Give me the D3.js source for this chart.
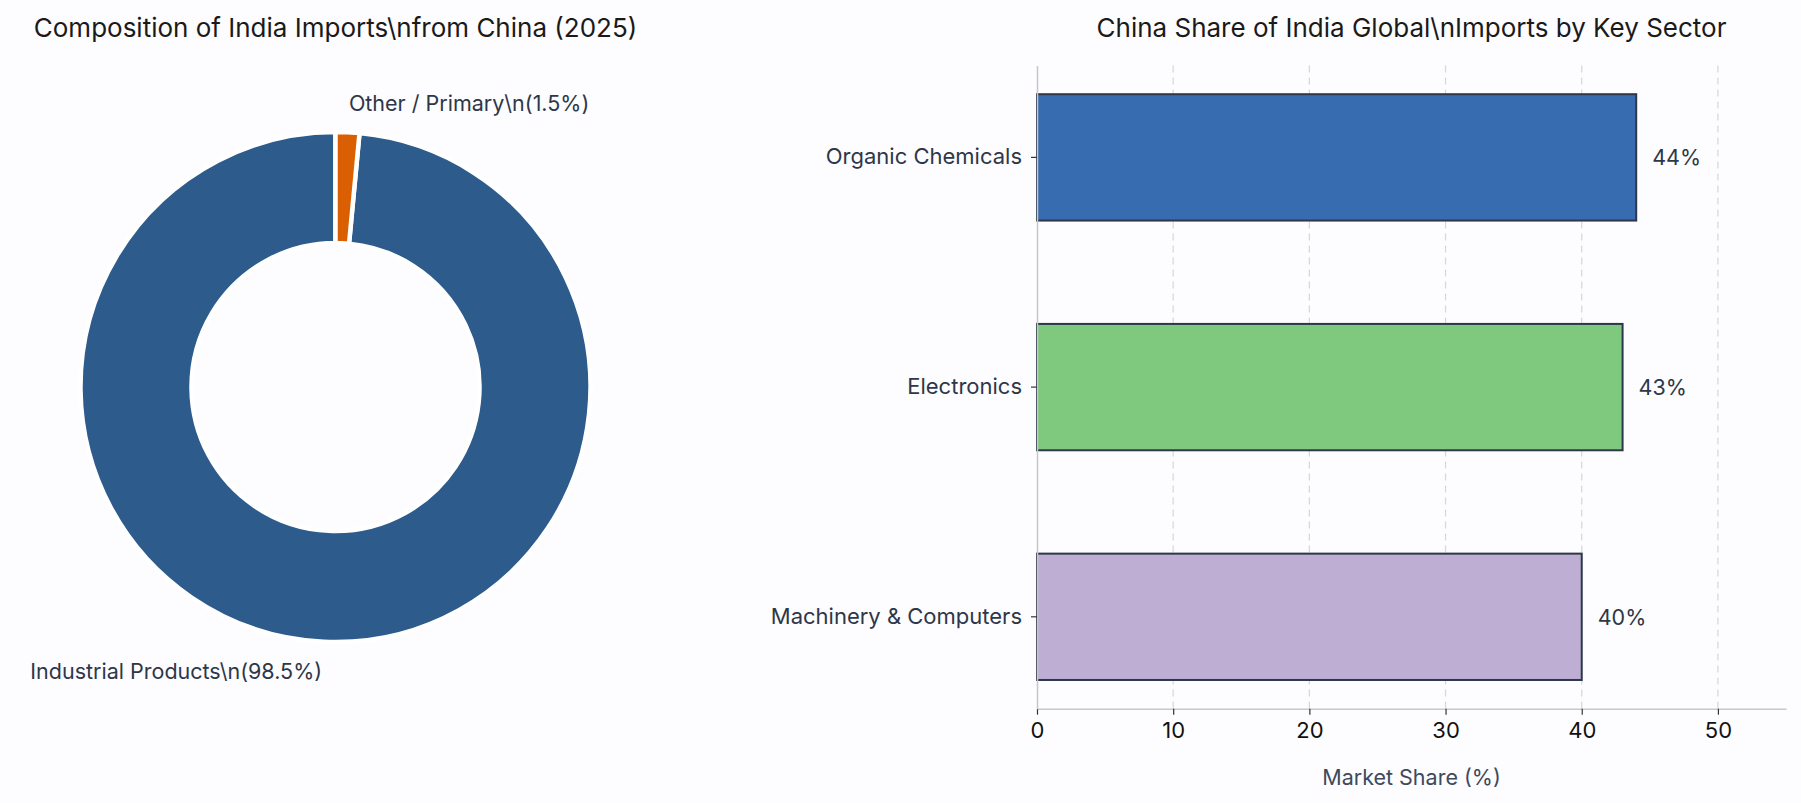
<!DOCTYPE html>
<html>
<head>
<meta charset="utf-8">
<script src="https://cdn.jsdelivr.net/npm/d3@7"></script>
<style>
  html, body { margin: 0; padding: 0; background: #fdfcff; }
  svg { display: block; font-family: Inter, "Open Sans", sans-serif; }
</style>
</head>
<body>
<svg id="chart" width="1801" height="803"></svg>
<script>
// Left panel: composition of imports (donut).
const compLabels = ["Industrial Products\\n(98.5%)", "Other / Primary\\n(1.5%)"];
const compShares = [98.5, 1.5];
const compColors = ["#2c5b8c", "#d95f02"];

// Right panel: China share by sector (horizontal bars, bottom to top).
const sectors = ["Machinery & Computers", "Electronics", "Organic Chemicals"];
const sectorShares = [40, 43, 44];
const sectorColors = ["#beaed4", "#7fc97f", "#386cb0"];
const xTicks = [0, 10, 20, 30, 40, 50];

const svg = d3.select("#chart");
const textColor = "#2d3748";

// --- Donut ---
const cx = 335.5, cy = 387, outerR = 255, innerR = 144;

svg.append("text")
  .attr("x", cx)
  .attr("y", 27)
  .attr("text-anchor", "middle")
  .attr("dominant-baseline", "central")
  .style("font-size", "26px")
  .style("fill", "#1a1a1a")
  .text("Composition of India Imports\\nfrom China (2025)");

// Counter-clockwise from the top, like matplotlib's default pie.
const pie = d3.pie().sort(null).startAngle(2 * Math.PI).endAngle(0);
const arcs = pie(compShares);
const arc = d3.arc().innerRadius(innerR).outerRadius(outerR);

const donut = svg.append("g").attr("transform", `translate(${cx},${cy})`);

donut.selectAll("path.slice")
  .data(arcs)
  .join("path")
  .attr("class", "slice")
  .attr("d", arc)
  .attr("fill", (d, i) => compColors[i])
  .attr("stroke", "#ffffff")
  .attr("stroke-width", 4.5);

donut.selectAll("text.slice-label")
  .data(arcs)
  .join("text")
  .attr("class", "slice-label")
  .each(function (d) {
    const mid = (d.startAngle + d.endAngle) / 2;
    const r = outerR * 1.115;
    d3.select(this)
      .attr("x", Math.sin(mid) * r)
      .attr("y", -Math.cos(mid) * r)
      .attr("text-anchor", Math.sin(mid) >= 0 ? "start" : "end");
  })
  .attr("dominant-baseline", "central")
  .style("font-size", "21.5px")
  .style("fill", textColor)
  .text((d, i) => compLabels[i]);

// --- Bars ---
const plot = { left: 1037, right: 1786, top: 65.5, bottom: 708.7 };

svg.append("text")
  .attr("x", (plot.left + plot.right) / 2)
  .attr("y", 27)
  .attr("text-anchor", "middle")
  .attr("dominant-baseline", "central")
  .style("font-size", "26px")
  .style("fill", "#1a1a1a")
  .text("China Share of India Global\\nImports by Key Sector");

const x = d3.scaleLinear().domain([0, 55]).range([plot.left, plot.right]);
const y = d3.scaleBand()
  .domain(sectors)
  .range([plot.bottom, plot.top])
  .paddingInner(0.45)
  .paddingOuter(0.125);

// Dashed vertical grid.
svg.append("g")
  .selectAll("line")
  .data(xTicks.filter((t) => t > 0))
  .join("line")
  .attr("x1", (d) => x(d))
  .attr("x2", (d) => x(d))
  .attr("y1", plot.top)
  .attr("y2", plot.bottom)
  .attr("stroke", "#d6d6d6")
  .attr("stroke-width", 1.2)
  .attr("stroke-dasharray", "7,5");

svg.append("g")
  .selectAll("rect")
  .data(sectors)
  .join("rect")
  .attr("x", x(0))
  .attr("y", (d) => y(d))
  .attr("width", (d, i) => x(sectorShares[i]) - x(0))
  .attr("height", y.bandwidth())
  .attr("fill", (d, i) => sectorColors[i])
  .attr("stroke", "#2d3748")
  .attr("stroke-width", 2);

svg.append("g")
  .selectAll("text")
  .data(sectors)
  .join("text")
  .attr("x", (d, i) => x(sectorShares[i]) + 16)
  .attr("y", (d) => y(d) + y.bandwidth() / 2)
  .attr("dominant-baseline", "central")
  .style("font-size", "21.5px")
  .style("fill", textColor)
  .text((d, i) => `${sectorShares[i]}%`);

// Axes.
const xAxis = svg.append("g")
  .attr("transform", `translate(0,${plot.bottom})`)
  .call(d3.axisBottom(x).tickValues(xTicks).tickSize(6).tickPadding(8).tickSizeOuter(0));
xAxis.select(".domain").attr("stroke", "#c8c8c8").attr("stroke-width", 1.5);
xAxis.selectAll(".tick line").attr("stroke", "#333333").attr("stroke-width", 1.2);
xAxis.selectAll(".tick text")
  .style("font-size", "22px")
  .style("font-family", "Inter, sans-serif")
  .style("fill", "#111111");

const yAxis = svg.append("g")
  .attr("transform", `translate(${plot.left},0)`)
  .call(d3.axisLeft(y).tickSize(6).tickPadding(9).tickSizeOuter(0));
yAxis.select(".domain").attr("stroke", "#c8c8c8").attr("stroke-width", 1.5);
yAxis.selectAll(".tick line").attr("stroke", "#333333").attr("stroke-width", 1.2);
yAxis.selectAll(".tick text")
  .style("font-size", "22px")
  .style("font-family", "Inter, sans-serif")
  .style("fill", textColor);

svg.append("text")
  .attr("x", (plot.left + plot.right) / 2)
  .attr("y", 777)
  .attr("text-anchor", "middle")
  .attr("dominant-baseline", "central")
  .style("font-size", "21.5px")
  .style("fill", "#3d4a5c")
  .text("Market Share (%)");
</script>
</body>
</html>
